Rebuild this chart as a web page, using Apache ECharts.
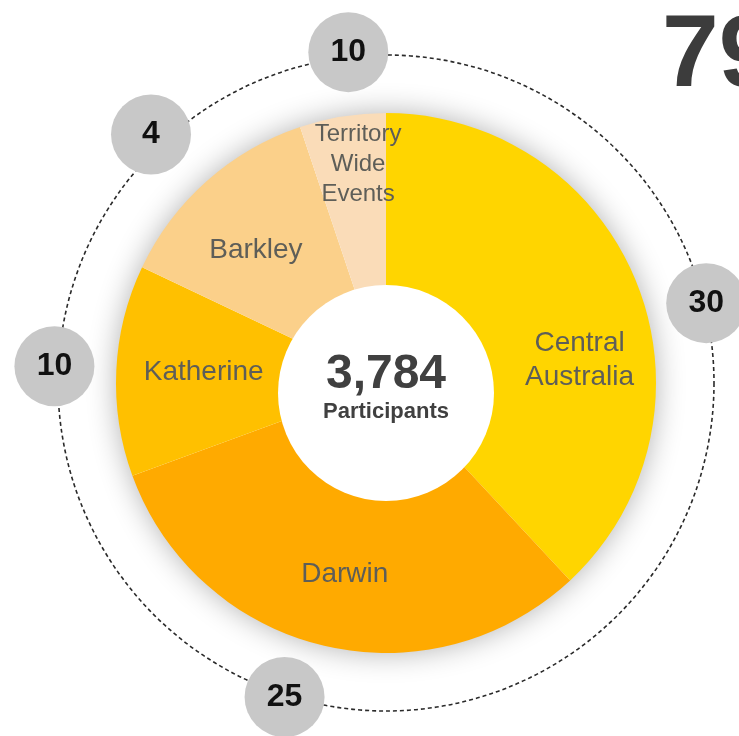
<!DOCTYPE html>
<html>
<head>
<meta charset="utf-8">
<script src="https://cdn.jsdelivr.net/npm/echarts@6/dist/echarts.min.js"></script>
<style>
html,body{margin:0;padding:0;background:#fff;}
#chart{width:739px;height:736px;}
</style>
</head>
<body>
<div id="chart"></div>
<script>
// ---- data ----
const regions = ['Central Australia', 'Darwin', 'Katherine', 'Barkley', 'Territory Wide Events'];
const regionLabels = ['Central\nAustralia', 'Darwin', 'Katherine', 'Barkley', 'Territory\nWide\nEvents'];
const participants = [1440, 1187, 478, 484, 195];
const eventCounts = [30, 25, 10, 4, 10];
const centerCaption = 'Participants';

// ---- layout / style (not data) ----
const sliceColors = ['#FFD500', '#FFAA00', '#FFC000', '#FBD08A', '#FADCB8'];
const labelShift = [[21, 45], [2, 11], [3, -2], [-7, 6], [2, -36]];
const badgeAngles = [76, 197.9, 272.9, 316.6, 353.5];
const badgeRadii = [330, 330, 332, 342, 333];
const CX = 386, CY = 383, R_OUT = 270, R_IN = 95, R_RING = 328;
const FONT = '"Liberation Sans", Arial, sans-serif';

const total = participants.reduce((a, b) => a + b, 0);
const totalEvents = eventCounts.reduce((a, b) => a + b, 0);

const chart = echarts.init(document.getElementById('chart'), null, {renderer: 'canvas'});
chart.setOption({
  animation: false,
  backgroundColor: '#fff',
  polar: {center: [CX, CY], radius: R_RING},
  angleAxis: {
    type: 'value', min: 0, max: 360, startAngle: 90, clockwise: true,
    axisLine: {show: true, lineStyle: {color: '#2a2a2a', width: 1.6, type: [4, 3]}},
    axisTick: {show: false}, axisLabel: {show: false}, splitLine: {show: false}
  },
  radiusAxis: {
    type: 'value', min: 0, max: R_RING,
    axisLine: {show: false}, axisTick: {show: false}, axisLabel: {show: false}, splitLine: {show: false}
  },
  graphic: [
    {type: 'circle', z: 1, shape: {cx: CX, cy: CY, r: R_OUT - 1},
     style: {fill: '#fff', shadowBlur: 30, shadowColor: 'rgba(0,0,0,0.32)'}},
    {type: 'circle', z: 100, shape: {cx: CX, cy: CY + 10, r: 108}, style: {fill: '#fff'}},
    {type: 'text', z: 101, x: CX, y: CY - 8,
     style: {text: total.toLocaleString('en-US'), fill: '#404040', font: 'bold 48px ' + FONT,
             align: 'center', verticalAlign: 'middle'}},
    {type: 'text', z: 101, x: CX, y: CY + 29,
     style: {text: centerCaption, fill: '#404040', font: 'bold 22px ' + FONT,
             align: 'center', verticalAlign: 'middle'}},
    {type: 'text', z: 101, x: 662, y: 58,
     style: {text: String(totalEvents), fill: '#3c3c3c', font: 'bold 102px ' + FONT,
             align: 'left', verticalAlign: 'middle'}}
  ],
  series: [
    {
      type: 'pie', z: 5,
      center: [CX, CY], radius: [R_IN, R_OUT],
      startAngle: 90, clockwise: true,
      avoidLabelOverlap: false,
      silent: true,
      itemStyle: {borderWidth: 0},
      label: {
        show: true, position: 'inside', color: '#5e5e58',
        fontFamily: FONT, fontSize: 28, lineHeight: 34,
        formatter: p => regionLabels[p.dataIndex]
      },
      labelLine: {show: false},
      labelLayout: p => ({dx: labelShift[p.dataIndex][0], dy: labelShift[p.dataIndex][1]}),
      data: regions.map((name, i) => ({
        name: name, value: participants[i],
        itemStyle: {color: sliceColors[i]},
        label: i === 4 ? {fontSize: 24, lineHeight: 30} : {}
      }))
    },
    {
      type: 'scatter', coordinateSystem: 'polar', z: 6, clip: false,
      symbol: 'circle', symbolSize: 80, silent: true,
      itemStyle: {color: '#c8c8c8', opacity: 1},
      label: {
        show: true, position: 'inside', color: '#111',
        fontFamily: FONT, fontWeight: 'bold', fontSize: 32,
        formatter: p => String(p.value[2])
      },
      data: eventCounts.map((v, i) => [badgeRadii[i], badgeAngles[i], v])
    }
  ]
});
</script>
</body>
</html>
